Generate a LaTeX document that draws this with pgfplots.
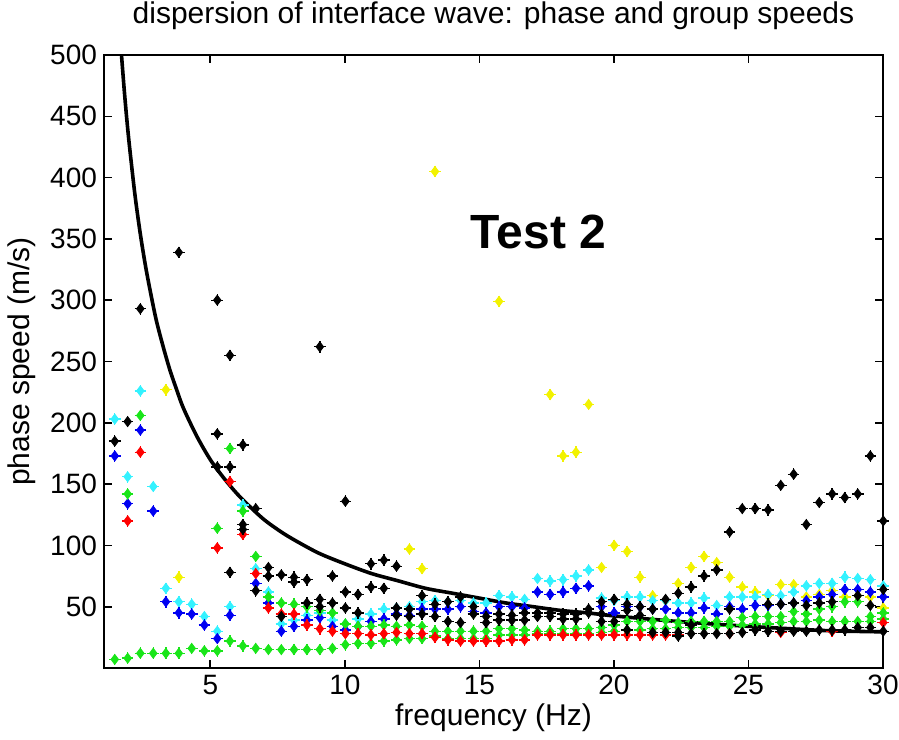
\documentclass[border=0pt]{standalone}
\usepackage{fontspec}
\setmainfont{Liberation Sans}
\usepackage{pgfplots}
\pgfplotsset{compat=1.18}
\usepackage{pgfplotstable}
\usetikzlibrary{calc}
\definecolor{mblue}{rgb}{0,0,0.95}
\definecolor{mgreen}{rgb}{0.1,0.9,0.1}
\definecolor{mred}{rgb}{1,0,0}
\definecolor{mcyan}{rgb}{0.2,0.95,1}
\definecolor{myellow}{rgb}{0.95,0.95,0}

\pgfplotstableread{
f c
1.45 185
1.93 201
2.40 293
3.83 339
5.26 300
5.26 191
5.26 164
5.73 255
5.73 164
5.73 78
6.21 182
6.21 117
6.21 113
6.69 130
6.69 63
7.16 82
7.16 75
7.64 76
7.64 42
8.11 74
8.11 70
8.59 72
8.59 53
9.07 262
9.07 56
9.07 50
9.54 75
9.54 53
10.02 136
10.02 62
10.02 49
10.49 60
10.49 45
10.97 85
10.97 66
11.45 88
11.45 65
11.92 83
11.92 49
11.92 43
12.40 48
12.40 42
12.87 59
12.87 44
13.35 52
13.35 42
13.83 54
13.83 38
14.30 58
14.30 37
14.78 50
14.78 44
15.25 42
15.25 37
15.73 44
15.73 39
16.21 43
16.21 39
16.68 45
16.68 39
17.16 45
17.16 42
17.63 45
17.63 42
18.11 44
18.11 40
18.59 44
18.59 40
19.06 48
19.06 45
19.54 54
19.54 44
19.54 38
20.01 56
20.01 38
20.49 52
20.49 47
20.49 31
20.97 50
20.97 43
21.44 48
21.44 29
21.92 56
21.92 29
22.39 61
22.39 29
22.39 26
22.87 66
22.87 35
22.87 28
23.35 75
23.35 28
23.82 80
23.82 28
24.30 111
24.30 48
24.30 28
24.77 130
24.77 29
25.25 130
25.25 31
25.73 129
25.73 52
25.73 30
26.20 149
26.20 52
26.20 30
26.68 158
26.68 53
26.68 30
27.15 117
27.15 51
27.15 30
27.63 135
27.63 53
27.63 31
28.11 142
28.11 54
28.11 31
28.58 139
28.58 31
29.06 142
29.06 59
29.06 33
29.53 173
29.53 51
29.53 33
30.01 120
30.01 64
30.01 30
}\tblack

\pgfplotstableread{
f c
1.45 173
1.93 134
2.40 194
2.88 128
3.35 54
3.83 45
4.31 44
4.78 35
5.26 24
5.73 43
6.69 69
7.16 53
7.64 30
8.11 34
8.59 39
9.07 41
9.54 34
10.02 31
10.49 34
10.97 38
11.45 40
11.92 44
12.40 43
12.87 48
13.35 48
13.83 48
14.30 50
14.78 46
15.25 45
15.73 50
16.21 50
16.68 49
17.16 62
17.63 60
18.11 62
18.59 65
19.06 67
19.54 50
20.01 45
20.49 50
20.97 50
21.44 48
21.92 48
22.39 45
22.87 45
23.35 49
23.82 44
24.30 50
24.77 48
25.25 51
25.73 51
26.20 52
26.68 53
27.15 55
27.63 58
28.11 60
28.58 64
29.06 64
29.53 62
30.01 58
}\tblue

\pgfplotstableread{
f c
1.45 203
1.93 156
2.40 226
2.88 148
3.35 65
3.83 54
4.31 52
4.78 42
5.26 30
5.73 50
6.21 133
6.69 81
7.16 62
7.64 36
8.11 39
8.59 43
9.07 45
9.54 39
10.02 36
10.49 40
10.97 44
11.45 48
11.92 49
12.40 50
12.87 54
13.35 55
13.83 54
14.30 55
14.78 53
15.25 53
15.73 59
16.21 58
16.68 56
17.16 73
17.63 71
18.11 72
18.59 75
19.06 80
19.54 57
20.01 55
20.49 58
20.97 58
21.44 55
21.92 55
22.39 53
22.87 53
23.35 57
23.82 51
24.30 58
24.77 58
25.25 58
25.73 60
26.20 59
26.68 62
27.15 67
27.63 69
28.11 69
28.58 74
29.06 73
29.53 72
30.01 67
}\tcyan

\pgfplotstableread{
f c
1.93 120
2.40 176
5.26 98
5.73 152
6.21 109
6.69 77
7.16 49
7.64 44
8.11 44
8.59 35
9.07 32
9.54 30
10.02 28
10.49 28
10.97 27
11.45 28
11.92 29
12.40 28
12.87 28
13.35 25
13.83 23
14.30 22
14.78 22
15.25 22
15.73 22
16.21 23
16.68 23
17.16 27
17.63 27
18.11 27
18.59 27
19.06 27
19.54 27
20.01 27
20.49 27
20.97 27
21.44 27
21.92 27
22.39 27
24.30 28
26.20 29
28.11 30
30.01 37
}\tred

\pgfplotstableread{
f c
1.93 142
2.40 206
5.26 114
5.73 179
6.21 128
6.69 91
7.16 58
7.64 53
8.11 52
8.59 50
9.07 47
9.54 45
10.02 36
10.49 34
10.97 34
11.45 35
11.92 34
12.40 35
12.87 34
13.35 30
13.83 30
14.30 30
14.78 30
15.25 30
15.73 32
16.21 32
16.68 31
17.16 30
17.63 30
18.11 32
18.59 32
19.06 32
19.54 33
20.01 35
20.49 38
20.97 38
21.44 38
21.92 39
22.39 37
22.87 38
23.35 38
23.82 38
24.30 38
24.77 41
25.25 42
25.73 42
26.20 42
26.68 46
27.15 44
27.63 48
28.11 50
28.58 54
29.06 54
29.53 42
30.01 45
1.45 7
1.93 8
2.40 12
2.88 12
3.35 12
3.83 12
4.31 16
4.78 14
5.26 14
5.73 22
6.21 18
6.69 16
7.16 15
7.64 15
8.11 15
8.59 15
9.07 15
9.54 16
10.02 19
10.49 20
10.97 20
11.45 22
11.92 23
12.40 24
12.87 24
13.35 26
13.83 24
14.30 24
14.78 24
15.25 24
15.73 27
16.21 27
16.68 27
17.16 28
17.63 28
18.11 28
18.59 28
19.06 28
19.54 29
20.01 30
20.49 31
20.97 31
21.44 32
21.92 32
22.39 33
22.87 33
23.35 33
23.82 34
24.30 34
24.77 35
25.25 36
25.73 36
26.20 37
26.68 38
27.15 38
27.63 39
28.11 38
28.58 38
29.06 38
29.53 38
30.01 40
}\tgreen

\pgfplotstableread{
f c
3.35 227
3.83 74
12.40 97
12.87 81
13.35 405
15.73 299
17.63 223
18.11 173
18.59 176
19.06 215
19.54 82
20.01 100
20.49 95
20.97 74
21.44 59
21.92 55
22.39 69
22.87 82
23.35 91
23.82 86
24.30 74
24.77 66
25.25 62
25.73 59
26.20 68
26.68 68
27.15 58
27.63 60
28.11 63
28.58 58
29.06 59
29.53 58
30.01 49
}\tyellow

\begin{document}
\begin{tikzpicture}
\begin{axis}[name=ax, scale only axis, width=389.5pt, height=306.5pt,
  xmin=1.05, xmax=30, ymin=0, ymax=500,
  xtick={5,10,...,30}, ytick={50,100,...,500},
  tick align=inside, major tick length=4pt,
  axis line style={line width=0.9pt},
  every tick/.style={line width=0.8pt, black},
  ticklabel style={font=\fontsize{14}{16}\selectfont},
  /pgf/number format/assume math mode=true,
  xlabel={frequency (Hz)}, ylabel={phase speed (m/s)},
  label style={font=\fontsize{15}{18}\selectfont},
  xlabel style={at={(axis description cs:0.5,0)}, anchor=center, yshift=-25pt},
  ylabel style={at={(axis description cs:-0.105,0.5)}, anchor=center},
  title={dispersion of interface wave: phase and group speeds},
  title style={font=\fontsize{15}{18}\selectfont, at={(axis description cs:0.5,1)}, anchor=center, yshift=13.5pt},
  clip=false,
  pts/.style={only marks, mark=diamond*, mark size=2.5pt},
  crs/.style={only marks, mark=+, mark size=2.9pt, mark options={line width=0.7pt}},
]
\addplot[pts, color=myellow] table[x=f, y=c] {\tyellow};
\addplot[crs, color=myellow] table[x=f, y=c] {\tyellow};
\addplot[pts, color=mcyan] table[x=f, y=c] {\tcyan};
\addplot[crs, color=mcyan] table[x=f, y=c] {\tcyan};
\addplot[pts, color=mblue] table[x=f, y=c] {\tblue};
\addplot[crs, color=mblue] table[x=f, y=c] {\tblue};
\addplot[pts, color=mgreen] table[x=f, y=c] {\tgreen};
\addplot[crs, color=mgreen] table[x=f, y=c] {\tgreen};
\addplot[pts, color=mred] table[x=f, y=c] {\tred};
\addplot[crs, color=mred] table[x=f, y=c] {\tred};
\addplot[pts, color=black] table[x=f, y=c] {\tblack};
\addplot[crs, color=black] table[x=f, y=c] {\tblack};
\addplot[black, line width=1.8pt, mark=none, smooth] coordinates {
(1.70,500) (1.80,472) (1.90,447) (2.00,425) (2.20,386) (2.40,354) (2.60,327)
(2.80,304) (3.00,283) (3.25,262) (3.50,243) (3.75,227) (4.00,212) (4.50,189)
(5.00,170) (5.50,155) (6.00,142) (6.50,131) (7.00,121) (7.50,113) (8.00,106)
(9.00,94) (10.00,85) (11.00,77) (12.00,71) (13.00,65) (14.00,61) (15.00,57)
(16.00,53) (17.00,50) (18.00,47) (19.00,45) (20.00,42.5) (22.00,38.6)
(24.00,35.4) (26.00,32.7) (28.00,30.4) (30.00,29.5)};
\node[font=\fontsize{24}{28}\selectfont\bfseries] at (axis cs:17.2,356) {Test 2};
\end{axis}
\pgfresetboundingbox
\useasboundingbox ($(ax.south west)+(-52pt,-35.5pt)$) rectangle ($(ax.north east)+(8pt,27.5pt)$);
\end{tikzpicture}
\end{document}
